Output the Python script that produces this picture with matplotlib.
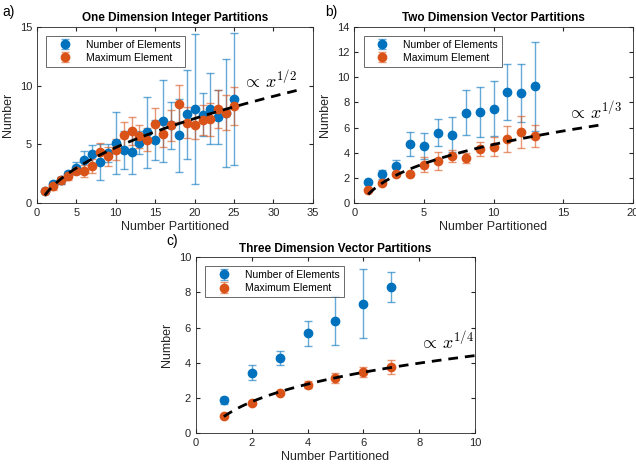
import matplotlib
matplotlib.use("Agg")
import matplotlib.pyplot as plt
import numpy as np

plt.rcParams["font.family"] = ["Liberation Sans", "DejaVu Sans"]
plt.rcParams["mathtext.fontset"] = "cm"

# Panel a: one dimension integer partitions
a_x = list(range(1, 26))
a_num = [1.0, 1.59, 1.95, 2.44, 3.01, 3.64, 4.15, 3.49, 4.26, 5.11, 4.49, 4.35, 5.14,
         6.02, 5.34, 6.96, 6.6, 5.77, 7.56, 7.98, 7.53, 8.04, 7.33, 7.7, 8.84]
a_num_err = [0.0, 0.2, 0.3, 0.3, 0.5, 0.8, 0.8, 1.5, 0.8, 2.6, 1.6, 1.9, 1.0,
             3.0, 1.7, 3.5, 2.0, 3.1, 3.8, 6.4, 1.8, 3.0, 2.3, 4.6, 5.6]
a_max = [1.0, 1.42, 1.93, 2.27, 2.73, 2.73, 3.15, 4.35, 3.98, 4.55, 5.77, 6.11, 5.68,
         5.40, 6.76, 5.91, 6.62, 8.47, 6.85, 6.62, 7.05, 7.13, 7.98, 7.70, 8.27]
a_max_err = [0.0, 0.3, 0.3, 0.3, 0.3, 0.5, 0.6, 0.8, 0.8, 0.9, 1.1, 1.2, 1.0,
             1.0, 1.3, 1.1, 1.3, 1.6, 1.3, 1.2, 1.3, 1.4, 1.6, 1.5, 1.6]

# Panel b: two dimension vector partitions
b_x = list(range(1, 14))
b_num = [1.67, 2.28, 2.94, 4.72, 4.51, 5.57, 5.44, 7.19, 7.24, 7.51, 8.81, 8.75, 9.26]
b_num_err = [0.1, 0.35, 0.5, 0.95, 1.05, 1.07, 1.4, 1.8, 2.0, 2.15, 2.2, 2.3, 3.5]
b_max = [1.0, 1.59, 2.28, 2.28, 3.05, 3.34, 3.74, 3.58, 4.27, 4.46, 5.09, 5.65, 5.33]
b_max_err = [0.0, 0.1, 0.15, 0.1, 0.6, 0.7, 0.45, 0.4, 0.55, 0.75, 1.05, 1.3, 0.9]

# Panel c: three dimension vector partitions
c_x = list(range(1, 8))
c_num = [1.88, 3.45, 4.30, 5.68, 6.40, 7.35, 8.30]
c_num_err = [0.2, 0.45, 0.4, 0.7, 1.4, 1.95, 0.85]
c_max = [0.98, 1.74, 2.27, 2.75, 3.13, 3.47, 3.75]
c_max_err = [0.0, 0.05, 0.05, 0.2, 0.3, 0.3, 0.4]

# Power-law guide lines: y = k * x**p + c, drawn from x0 to x1
fits = {
    "a": (0.5, 1.886, -1.24, 1.0, 33.0),
    "b": (1 / 3, 3.436, -2.75, 1.0, 18.0),
    "c": (0.25, 4.45, -3.5, 1.0, 10.0),
}

BLUE = "#0072BD"
ORANGE = "#D95319"
AXC = "#262626"


def draw(ax, x, num, num_err, mx, mx_err, fit, xlim, ylim, xticks, yticks,
         title, label_xy, label_text):
    e1 = ax.errorbar(x, num, yerr=num_err, fmt="o", color=BLUE, ms=6,
                     ecolor=BLUE, elinewidth=1, capsize=3, capthick=1,
                     label="Number of Elements")
    for art in e1[1] + e1[2]:
        art.set_alpha(0.6)
    e2 = ax.errorbar(x, mx, yerr=mx_err, fmt="o", color=ORANGE, ms=6,
                     ecolor=ORANGE, elinewidth=1, capsize=3, capthick=1,
                     label="Maximum Element")
    for art in e2[1] + e2[2]:
        art.set_alpha(0.6)
    p, k, c, x0, x1 = fit
    xs = np.linspace(x0, x1, 200)
    ax.plot(xs, k * xs ** p + c, "k--", lw=2, dashes=(3.5, 2.5), zorder=5)
    ax.text(label_xy[0], label_xy[1], label_text, fontsize=13, color="black")
    ax.set_xlim(*xlim)
    ax.set_ylim(*ylim)
    ax.set_xticks(xticks)
    ax.set_yticks(yticks)
    ax.tick_params(direction="in", length=3, labelsize=8, colors=AXC,
                   top=True, right=True)
    for s in ax.spines.values():
        s.set_color(AXC)
        s.set_linewidth(0.6)
    ax.set_title(title, fontsize=8.5, fontweight="bold", pad=4)
    ax.set_xlabel("Number Partitioned", fontsize=9, color=AXC, labelpad=2)
    ax.set_ylabel("Number", fontsize=9, color=AXC, labelpad=4)
    leg = ax.legend(loc="upper left", fontsize=7.5, frameon=True, fancybox=False,
                    edgecolor=AXC, borderpad=0.4, handlelength=2.8,
                    handletextpad=0.6, labelspacing=0.3,
                    bbox_to_anchor=(0.015, 0.98))
    leg.get_frame().set_linewidth(0.6)


fig = plt.figure(figsize=(6.36, 4.71), dpi=100)
ax_a = fig.add_axes([0.058, 0.569, 0.434, 0.374])
ax_b = fig.add_axes([0.557, 0.569, 0.438, 0.374])
ax_c = fig.add_axes([0.308, 0.080, 0.439, 0.374])

draw(ax_a, a_x, a_num, a_num_err, a_max, a_max_err, fits["a"], (0, 35), (0, 15),
     range(0, 36, 5), range(0, 16, 5), "One Dimension Integer Partitions",
     (26, 9.8), r"$\propto\, x^{1/2}$")
draw(ax_b, b_x, b_num, b_num_err, b_max, b_max_err, fits["b"], (0, 20), (0, 14),
     range(0, 21, 5), range(0, 15, 2), "Two Dimension Vector Partitions",
     (15.3, 6.7), r"$\propto\, x^{1/3}$")
draw(ax_c, c_x, c_num, c_num_err, c_max, c_max_err, fits["c"], (0, 10), (0, 10),
     range(0, 11, 2), range(0, 11, 2), "Three Dimension Vector Partitions",
     (8.0, 4.8), r"$\propto\, x^{1/4}$")

fig.text(0.003, 0.965, "a)", fontsize=10)
fig.text(0.512, 0.965, "b)", fontsize=10)
fig.text(0.262, 0.48, "c)", fontsize=10)

fig.savefig("out.png", dpi=100)
